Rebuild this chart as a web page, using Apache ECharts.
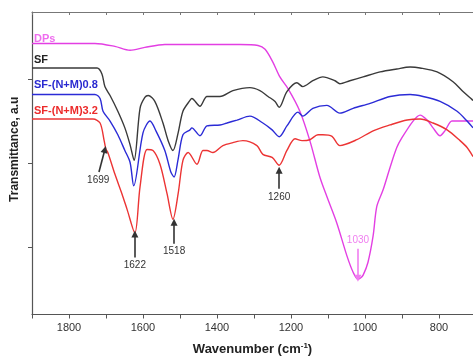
<!DOCTYPE html>
<html><head><meta charset="utf-8">
<script src="https://cdn.jsdelivr.net/npm/echarts@6/dist/echarts.min.js"></script>
<style>html,body{margin:0;padding:0;background:#fff}#c{width:473px;height:361px}</style>
</head><body><div id="c"></div>
<script>
// Wavenumber (cm-1) and transmittance (a.u.)
const dpsWn = [1900,1730,1676,1635,1595,1541,1446,1338,1289,1270,1249,1230,1208,1176,1149,1122,1103,1076,1049,1032,1019,1012,1005,992,978,968,951,932,914,900,870,851,832,816,797,784,765,751,708];
const dpsT  = [32.26,32.26,31.91,31.44,31.79,32.14,32.14,32.14,32.02,31.56,30.04,28.28,26.88,24.19,20.69,16.36,14.03,10.87,7.01,5.03,4.21,4.35,4.68,6.19,9.35,12.86,14.84,17.53,19.87,21.04,23.02,23.73,23.14,22.21,21.27,21.86,23.02,23.02,23.02];

const sfWn = [1900,1724,1711,1703,1689,1668,1649,1635,1624,1608,1595,1586,1568,1546,1532,1519,1505,1492,1473,1468,1446,1427,1392,1357,1311,1284,1262,1243,1232,1211,1184,1168,1141,1114,1081,1068,1041,1005,959,914,878,851,805,762,735,711,708];
const sfT  = [29.34,29.34,28.63,27.12,26.06,24.19,22.21,20.22,18.35,24.54,25.83,26.06,25.36,22.79,20.69,19.52,21.62,24.19,25.48,25.71,24.78,25.95,25.95,26.65,27.00,26.65,25.95,25.36,24.66,26.53,27.58,27.12,27.82,28.28,27.82,27.47,27.82,28.28,28.87,29.22,29.45,29.34,28.87,27.70,26.53,25.60,25.48];

const m08Wn = [1900,1730,1716,1708,1689,1668,1649,1635,1625,1600,1581,1565,1541,1525,1516,1505,1492,1473,1468,1446,1427,1392,1373,1346,1311,1276,1251,1232,1211,1181,1168,1141,1103,1068,1032,986,932,878,843,797,751,724,708];
const m08T  = [26.18,26.18,25.71,24.19,23.02,21.39,19.52,18.12,15.31,21.62,23.02,21.86,19.52,17.00,16.36,18.50,21.39,21.97,22.21,21.27,22.44,22.56,22.79,23.14,23.61,22.79,21.97,21.16,22.44,24.08,23.61,24.54,24.89,23.96,24.54,25.13,25.95,26.18,25.95,25.36,24.19,23.02,22.21];

const m32Wn = [1900,1735,1716,1705,1700,1695,1676,1657,1643,1622,1608,1589,1573,1554,1535,1519,1505,1492,1478,1454,1438,1427,1411,1384,1357,1330,1292,1276,1251,1232,1211,1189,1170,1149,1127,1114,1089,1068,1022,978,932,886,851,816,778,743,724,708];
const m32T  = [23.26,23.26,22.79,20.69,19.64,19.28,16.71,14.38,12.51,9.70,15.20,19.64,19.52,17.88,14.38,11.34,14.38,18.35,19.28,17.88,19.52,19.52,19.28,20.10,20.45,20.69,20.10,19.05,18.70,17.77,19.52,20.92,20.69,20.80,21.39,21.39,21.20,20.10,20.80,21.86,22.56,23.14,23.26,22.79,21.97,20.69,19.87,18.80];

const seriesNames = ['DPs','SF','SF-(N+M)0.8','SF-(N+M)3.2'];
const seriesColors = ['#e33fe3','#3a3a3a','#2b2bd6','#ec3434'];
const labelColors = ['#ef6cef','#222222','#2a2ad0','#ec2a2a'];
const nameLevels = [32.84,30.27,27.35,24.19];

const xTicks = [1900,1800,1700,1600,1500,1400,1300,1200,1100,1000,900,800];
const xLabels = [1800,1600,1400,1200,1000,800];
const yTicks = [8,18,28];

// peak annotations: [label, tailWn, tailT, tipWn, tipT]
const blackPeaks = [
  ['1699',1719,16.95,1703,19.64],
  ['1622',1622,6.78,1622,9.58],
  ['1518',1516,8.42,1516,10.99],
  ['1260',1232,14.96,1232,17.18]
];
const pinkPeaks = [['1030',1019,7.83,1019,4.32]];

function zip(a,b){return a.map((v,i)=>[v,b[i]]);}
const allData = [zip(dpsWn,dpsT), zip(sfWn,sfT), zip(m08Wn,m08T), zip(m32Wn,m32T)];
const FONT = 'Liberation Sans, Arial, sans-serif';

function arrows(list,color){
  return {
    silent:true, animation:false,
    symbol:['none','triangle'], symbolSize:7,
    lineStyle:{color:color,width:1.6,type:'solid'},
    label:{show:true,position:'start',distance:3,color:color,fontSize:10,fontFamily:FONT,formatter:'{b}'},
    data: list.map(p=>[{name:p[0],coord:[p[1],p[2]]},{coord:[p[3],p[4]]}])
  };
}

const series = allData.map((d,i)=>({
  type:'line', name:seriesNames[i], data:d, showSymbol:false, symbol:'none',
  smooth:0.3, lineStyle:{color:seriesColors[i],width:1.4}, itemStyle:{color:seriesColors[i]},
  z: i===0?2:3, animation:false,
  markPoint:{
    silent:true, animation:false, symbol:'circle', symbolSize:0,
    label:{show:true,position:'right',distance:2,formatter:'{b}',fontSize:11,fontWeight:'bold',color:labelColors[i],fontFamily:FONT},
    data:[{name:seriesNames[i],coord:[1900,nameLevels[i]]}]
  }
}));
series[3].markLine = arrows(blackPeaks,'#333333');
series[0].markLine = arrows(pinkPeaks,'#f07ef0');

const chart = echarts.init(document.getElementById('c'),null,{renderer:'canvas'});
chart.setOption({
  backgroundColor:'#ffffff',
  animation:false,
  grid:{left:32,top:12,right:0,bottom:41},
  xAxis:[{
    type:'value', min:708, max:1900, inverse:true, position:'bottom',
    name:'Wavenumber (cm{sup|-1})', nameLocation:'middle', nameGap:27,
    nameTextStyle:{fontSize:13,fontWeight:'bold',color:'#222',fontFamily:FONT,
      rich:{sup:{fontSize:8,fontWeight:'bold',verticalAlign:'top',padding:[0,0,8,0],color:'#222'}}},
    axisLine:{show:true,lineStyle:{color:'#555',width:1.2}},
    axisTick:{show:true,length:4,customValues:xTicks,lineStyle:{color:'#555'}},
    axisLabel:{show:true,customValues:xLabels,fontSize:11,color:'#333',margin:8,fontFamily:FONT,formatter:v=>String(v)},
    splitLine:{show:false}
  },{
    type:'value', min:708, max:1900, inverse:true, position:'top',
    axisLine:{show:true,lineStyle:{color:'#777',width:1}},
    axisTick:{show:true,inside:true,length:3,customValues:xTicks,lineStyle:{color:'#777'}},
    axisLabel:{show:false}, splitLine:{show:false}
  }],
  yAxis:{
    type:'value', min:0, max:36,
    name:'Transmittance, a.u', nameLocation:'middle', nameGap:11,
    nameTextStyle:{fontSize:12,fontWeight:'bold',color:'#222',padding:[0,0,0,28],fontFamily:FONT},
    axisLine:{show:true,lineStyle:{color:'#555',width:1.2}},
    axisTick:{show:true,length:4,customValues:yTicks,lineStyle:{color:'#555'}},
    axisLabel:{show:false}, splitLine:{show:false}
  },
  series:series
});
</script></body></html>
